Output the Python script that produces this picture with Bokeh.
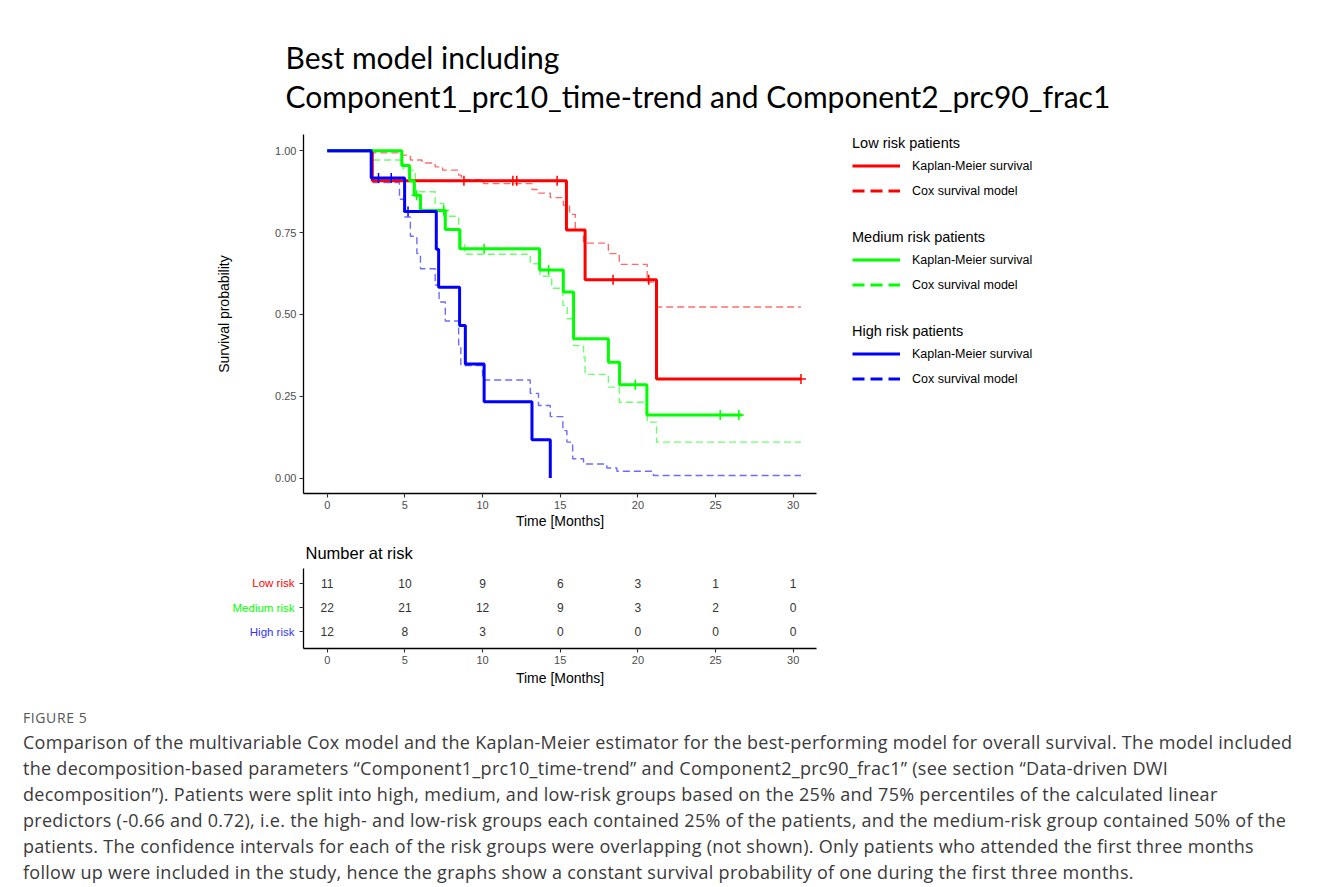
from bokeh.plotting import figure
from bokeh.models import Range1d, FixedTicker, Legend, LegendItem, Div, Span
from bokeh.layouts import column, row
from bokeh.embed import file_html
from bokeh.resources import INLINE
from bokeh.core.properties import value

# ---------------- data ----------------
title_text = "Best model including\nComponent1_prc10_time-trend and Component2_prc90_frac1"

x_ticks = [0, 5, 10, 15, 20, 25, 30]
y_ticks = [0.0, 0.25, 0.5, 0.75, 1.0]
y_tick_labels = ["0.00", "0.25", "0.50", "0.75", "1.00"]

# Low risk
low_km_t = [0, 2.9, 15.4, 16.6, 21.2, 30.5]
low_km_s = [1.0, 0.909, 0.758, 0.606, 0.303, 0.303]
low_cens_t = [8.8, 11.95, 12.2, 14.8, 18.4, 20.7, 30.5]
low_cens_s = [0.909, 0.909, 0.909, 0.909, 0.606, 0.606, 0.303]
low_cox_t = [0, 2.98, 4.76, 5.35, 6.1, 6.95, 7.43, 8.46, 8.63, 10.07, 13.18, 13.6,
             14.36, 15.2, 15.6, 15.97, 16.5, 18.1, 18.8, 20.6, 21.2, 30.5]
low_cox_s = [1.0, 0.994, 0.987, 0.972, 0.963, 0.951, 0.941, 0.926, 0.912, 0.900, 0.882, 0.871,
             0.857, 0.834, 0.806, 0.757, 0.718, 0.686, 0.653, 0.599, 0.523, 0.523]

# Medium risk
med_km_t = [0, 4.8, 5.3, 5.6, 6.0, 7.6, 8.53, 13.67, 15.2, 15.86, 18.1, 18.82, 20.58, 26.7]
med_km_s = [1.0, 0.955, 0.909, 0.864, 0.818, 0.760, 0.701, 0.636, 0.569, 0.426, 0.354, 0.285, 0.193, 0.193]
med_cens_t = [5.75, 7.5, 10.1, 14.25, 19.83, 25.3, 26.5]
med_cens_s = [0.864, 0.818, 0.701, 0.636, 0.285, 0.193, 0.193]
med_cox_t = [0, 2.95, 4.9, 5.67, 6.95, 7.5, 8.46, 8.6, 8.85, 13.07, 13.7, 14.45, 15.17, 15.45,
             15.86, 16.5, 16.6, 18.1, 18.8, 20.6, 21.2, 30.5]
med_cox_s = [1.0, 0.972, 0.941, 0.875, 0.839, 0.800, 0.757, 0.714, 0.684, 0.655, 0.617, 0.580, 0.528, 0.487,
             0.405, 0.370, 0.317, 0.278, 0.232, 0.171, 0.110, 0.110]

# High risk
high_km_t = [0, 2.83, 4.98, 7.02, 7.17, 8.52, 8.89, 10.1, 13.18, 14.36]
high_km_s = [1.0, 0.917, 0.815, 0.699, 0.583, 0.466, 0.349, 0.233, 0.117, 0.0]
high_cens_t = [3.3, 4.12, 5.2]
high_cens_s = [0.917, 0.917, 0.815]
high_cox_t = [0, 2.88, 4.65, 5.0, 5.35, 5.77, 6.0, 6.95, 7.2, 7.6, 8.46, 8.6, 10.0, 13.07, 13.6,
              14.36, 15.17, 15.43, 15.8, 16.5, 18.0, 18.65, 21.0, 30.5]
high_cox_s = [1.0, 0.903, 0.852, 0.798, 0.739, 0.686, 0.640, 0.590, 0.538, 0.480, 0.400, 0.344, 0.300, 0.259, 0.222,
              0.188, 0.145, 0.110, 0.059, 0.043, 0.031, 0.021, 0.008, 0.008]

legend_titles = ["Low risk patients", "Medium risk patients", "High risk patients"]
legend_labels = ["Kaplan-Meier survival", "Cox survival model"]

risk_groups = ["Low risk", "Medium risk", "High risk"]
risk_rows = [3, 2, 1]
risk_low = [11, 10, 9, 6, 3, 1, 1]
risk_med = [22, 21, 12, 9, 3, 2, 0]
risk_high = [12, 8, 3, 0, 0, 0, 0]

caption_head = "FIGURE 5"
caption_lines = [
    "Comparison of the multivariable Cox model and the Kaplan-Meier estimator for the best-performing model for overall survival. The model included",
    "the decomposition-based parameters \u201cComponent1_prc10_time-trend\u201d and Component2_prc90_frac1\u201d (see section \u201cData-driven DWI",
    "decomposition\u201d). Patients were split into high, medium, and low-risk groups based on the 25% and 75% percentiles of the calculated linear",
    "predictors (-0.66 and 0.72), i.e. the high- and low-risk groups each contained 25% of the patients, and the medium-risk group contained 50% of the",
    "patients. The confidence intervals for each of the risk groups were overlapping (not shown). Only patients who attended the first three months",
    "follow up were included in the study, hence the graphs show a constant survival probability of one during the first three months.",
]

# ---------------- styling ----------------
FONT = "Liberation Sans"
RED, GREEN, BLUE = "#FF0000", "#00FF00", "#0000FF"
W = 1328


def style_axes(fig):
    for ax in (fig.xaxis, fig.yaxis):
        ax.axis_line_color = "black"
        ax.axis_line_width = 1.3
        ax.major_tick_line_color = "#333333"
        ax.major_tick_line_width = 1.1
        ax.major_tick_out = 4
        ax.major_tick_in = 0
        ax.minor_tick_line_color = None
        ax.major_label_text_font = FONT
        ax.major_label_text_font_size = "11px"
        ax.major_label_text_color = "#4D4D4D"
        ax.major_label_standoff = 3
        ax.axis_label_text_font = FONT
        ax.axis_label_text_font_size = "14px"
        ax.axis_label_text_font_style = "normal"
        ax.axis_label_text_color = "black"
    fig.xgrid.visible = False
    fig.ygrid.visible = False
    fig.outline_line_color = None


def blank_fig(width, height, title=None, **kw):
    f = figure(width=width, height=height, title=title, x_range=Range1d(0, 1),
               y_range=kw.pop("y_range", Range1d(0, 1)),
               output_backend="svg", toolbar_location=None,
               x_axis_location=None, y_axis_location=None, **kw)
    f.outline_line_color = None
    f.grid.visible = False
    return f


# ---------------- top rule + title block ----------------
rule_fig = blank_fig(W, 9, y_range=Range1d(0, 9), min_border=0)
rule_fig.add_layout(Span(location=0.5, dimension="width", line_color="#d6d6d6", line_width=1))

title_fig = blank_fig(W, 115, title=title_text, min_border_top=114, min_border_bottom=0,
                      min_border_left=303, min_border_right=10)
title_fig.title.text_font = "Lato"
title_fig.title.text_font_size = "30px"
title_fig.title.text_font_style = "normal"
title_fig.title.text_color = "black"
title_fig.title.text_line_height = 1.08
title_fig.title.offset = -18
title_fig.title.standoff = 19

# ---------------- main plot ----------------
x_range = Range1d(-1.53, 31.5)
p = figure(width=826, height=410, title=None, x_range=x_range, y_range=Range1d(-0.047, 1.05),
           output_backend="svg", toolbar_location=None,
           min_border_left=303, min_border_right=10, min_border_top=10, min_border_bottom=41)
style_axes(p)
p.xaxis.ticker = FixedTicker(ticks=x_ticks)
p.yaxis.ticker = FixedTicker(ticks=y_ticks)
p.yaxis.major_label_overrides = dict(zip(y_ticks, y_tick_labels))
p.xaxis.axis_label = "Time [Months]"
p.yaxis.axis_label = "Survival probability"
p.xaxis.axis_label_standoff = 1
p.xaxis.major_label_standoff = 3
p.yaxis.axis_label_standoff = 40

groups = [
    (RED, low_km_t, low_km_s, low_cens_t, low_cens_s, low_cox_t, low_cox_s),
    (GREEN, med_km_t, med_km_s, med_cens_t, med_cens_s, med_cox_t, med_cox_s),
    (BLUE, high_km_t, high_km_s, high_cens_t, high_cens_s, high_cox_t, high_cox_s),
]
for col, _, _, _, _, ct, cs in groups:
    p.step(x=ct, y=cs, mode="after", line_color=col, line_width=1.4, line_alpha=0.58, line_dash="7 4")
for col, kt, ks, et, es, _, _ in groups:
    p.step(x=kt, y=ks, mode="after", line_color=col, line_width=3)
    p.scatter(x=et, y=es, marker="cross", size=10, line_color=col, line_width=1.5)

# ---------------- legend panel ----------------
leg_fig = blank_fig(W - 826, 410, min_border=0)
legend_bottoms = [290, 196, 102]
offscreen = [5, 6]   # keeps the legend-only renderers outside the visible 0..1 range
for (col, *_), ttl, lb in zip(groups, legend_titles, legend_bottoms):
    r_km = leg_fig.line(x=offscreen, y=offscreen, line_color=col, line_width=3)
    r_cox = leg_fig.line(x=offscreen, y=offscreen, line_color=col, line_width=3, line_dash="12 6")
    leg = Legend(items=[LegendItem(label=legend_labels[0], renderers=[r_km]),
                        LegendItem(label=legend_labels[1], renderers=[r_cox])],
                 title=ttl, location=(26, lb),
                 title_text_font=FONT, title_text_font_size="14.5px", title_text_font_style="normal",
                 title_text_color="black", title_standoff=2,
                 label_text_font=FONT, label_text_font_size="12.5px", label_text_color="black",
                 glyph_width=48, glyph_height=25, label_height=25, label_standoff=12,
                 spacing=0, padding=0, margin=0,
                 border_line_color=None, background_fill_alpha=0)
    leg_fig.add_layout(leg)

# ---------------- risk table ----------------
risk_y = Range1d(0.31, 3.61)
lab_fig = blank_fig(298, 156, y_range=risk_y, min_border_top=33, min_border_bottom=42,
                    min_border_left=0, min_border_right=0)
lab_fig.text(x=[1] * 3, y=risk_rows, text=risk_groups, x_offset=-4,
             text_color=[RED, GREEN, "#3333FF"], text_align="right", text_baseline="middle",
             text_font=value(FONT), text_font_size="11.5px")

r = figure(width=W - 298, height=156, title="Number at risk", x_range=x_range, y_range=risk_y,
           output_backend="svg", toolbar_location=None,
           min_border_left=5, min_border_right=512, min_border_top=33, min_border_bottom=42)
r.title.text_font = FONT
r.title.text_font_size = "16.5px"
r.title.text_font_style = "normal"
r.title.text_color = "black"
r.title.offset = 2
r.title.standoff = 14
style_axes(r)
r.xaxis.ticker = FixedTicker(ticks=x_ticks)
r.yaxis.ticker = FixedTicker(ticks=risk_rows)
r.yaxis.major_label_text_color = None
r.yaxis.major_label_standoff = 0
r.xaxis.axis_label = "Time [Months]"
r.xaxis.axis_label_standoff = 3

for rw, counts in zip(risk_rows, [risk_low, risk_med, risk_high]):
    r.text(x=x_ticks, y=[rw] * len(x_ticks), text=[str(c) for c in counts],
           text_align="center", text_baseline="middle", text_font_size="12px",
           text_color="#333333", text_font=value(FONT))

# ---------------- caption ----------------
cap_html = (
    '<div style="padding-left:18px;padding-top:14px;white-space:nowrap;">'
    '<div style="font-family:\'Open Sans\';font-size:14px;line-height:17px;color:#555;letter-spacing:0.6px;">'
    + caption_head + '</div>'
    '<div style="margin-top:3px;font-family:\'Open Sans\';font-size:18px;line-height:26px;color:#3a3a3a;letter-spacing:0.28px;">'
    + "<br>".join(caption_lines) + '</div></div>'
)
cap = Div(text=cap_html, width=W, height=197)

layout = column(rule_fig, title_fig, row(p, leg_fig, spacing=0), row(lab_fig, r, spacing=0), cap, spacing=0)
open("out.html", "w").write(file_html(layout, INLINE))
